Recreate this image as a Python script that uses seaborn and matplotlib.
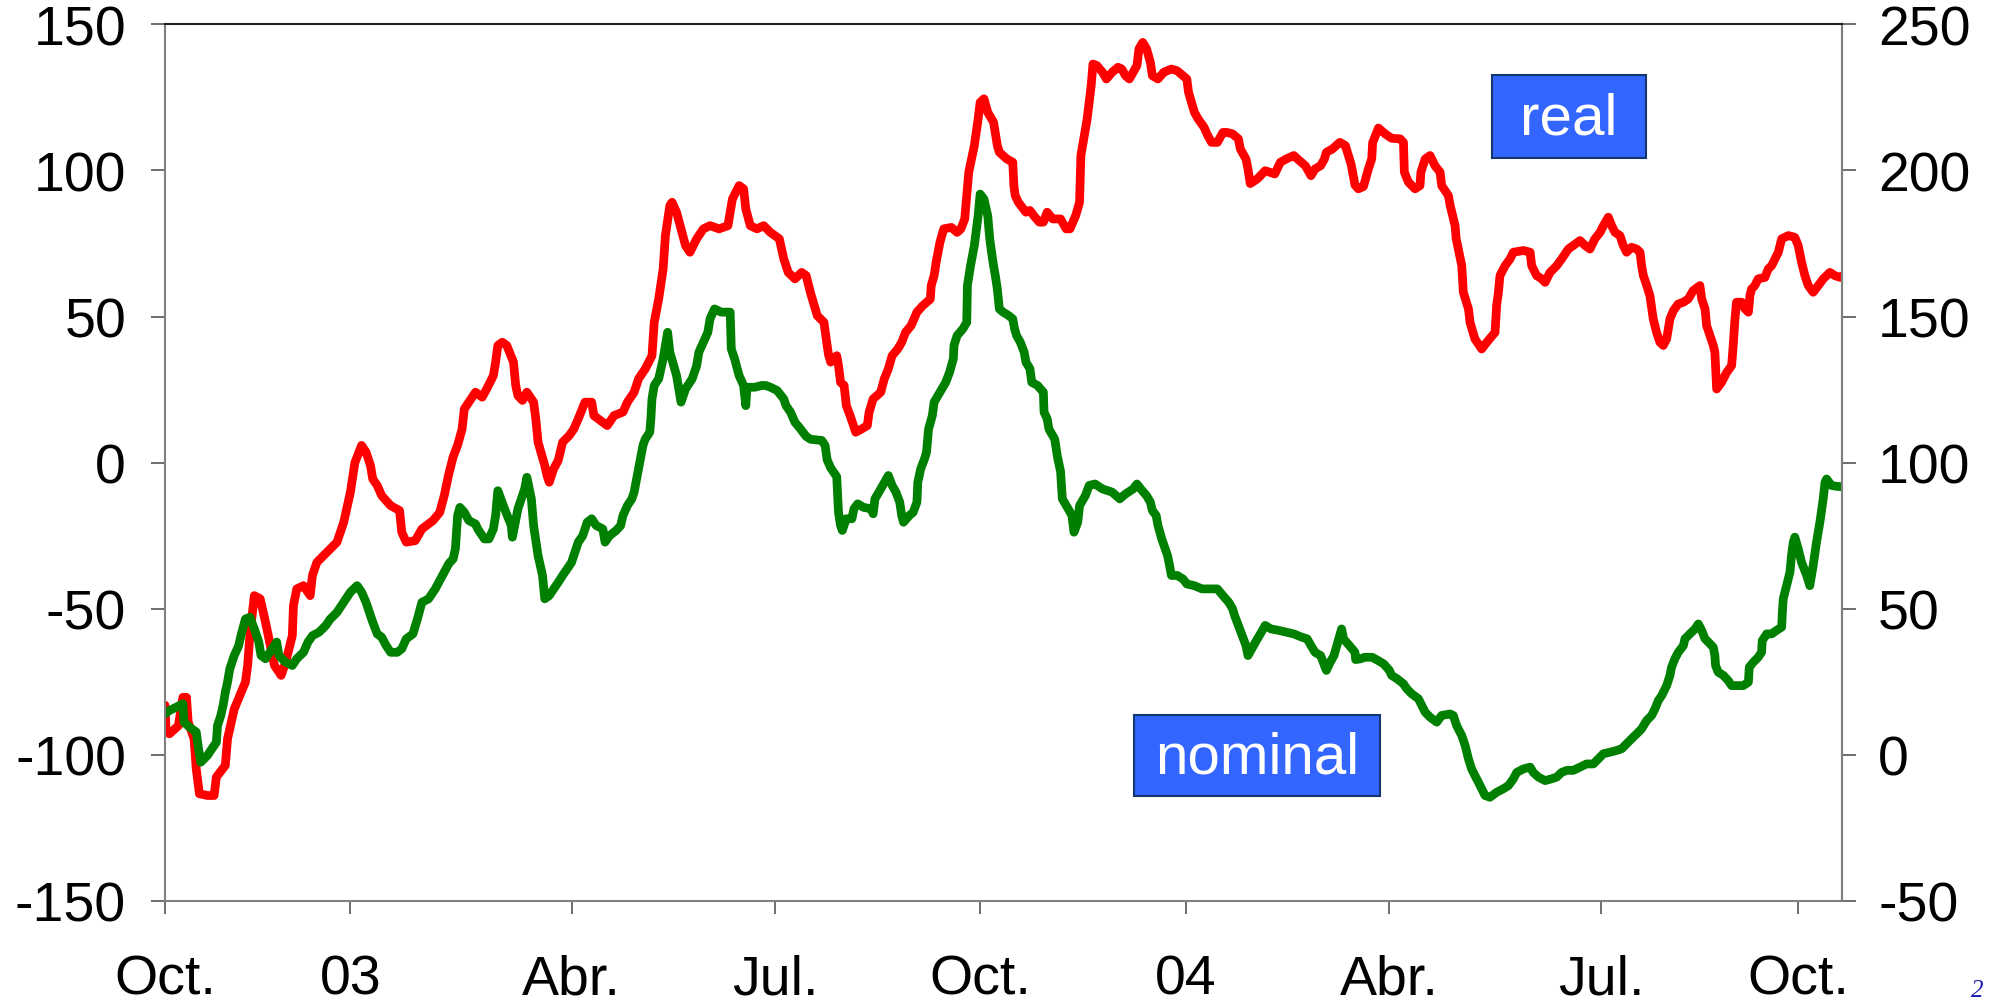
import matplotlib
matplotlib.use("Agg")
import matplotlib.pyplot as plt
from matplotlib.patches import Rectangle
import pandas as pd
import seaborn as sns

START = pd.Timestamp("2002-10-01")

# x = days since 1 Oct 2002, y = value on the left axis
real_days = [
    0, 0.5, 2, 6, 8, 9.6, 10.4, 13, 14, 15.4, 19, 22, 23, 27, 28, 31, 36, 37, 38, 40,
    42.6, 45, 49, 52, 54, 57, 57.5, 59, 62, 65, 66, 68, 71, 74, 77, 80, 83, 85, 88, 90,
    92, 93, 95, 97, 101, 105, 106, 108, 112, 115, 120, 123, 125, 127, 129, 131, 133, 134, 137, 139,
    142, 144, 147, 148, 149, 151, 153, 156, 157, 158, 160, 162, 165, 166, 167, 170, 171, 172, 174, 176,
    178, 181, 183, 185, 188, 191, 192, 196, 198, 201, 205, 207, 210, 212, 215, 218, 219, 221, 223, 224,
    226, 227, 229, 231, 233, 235, 238, 241, 244, 248, 252, 254, 257, 259, 260, 262, 265, 268, 271, 275,
    277, 279, 282, 285, 287, 289, 292, 295, 296, 297, 298, 300.7, 301.5, 302.4, 304, 305, 306.7, 309.2, 311.8, 314.4,
    315.2, 317, 320.4, 322, 323.8, 325.5, 328, 329.8, 331.5, 334, 336.6, 339.2, 342.6, 343, 344.3, 345.2, 346.9, 348.6, 352, 354.6,
    356.3, 358, 359, 359.8, 362.3, 364, 364.9, 366.6, 368.3, 370.9, 372.6, 373.5, 376.9, 379.5, 380, 380.6, 382, 385.4, 387.2, 388.9,
    391.4, 393.2, 394.9, 397.4, 400.9, 403.4, 405.1, 407.7, 409.4, 410, 412.8, 414.6, 415.4, 417.1, 419.7, 421.4, 424, 426.6, 428.3, 430,
    431.7, 433.4, 435.1, 436, 437.7, 439.4, 441.1, 442, 444.5, 447.1, 450.5, 453.1, 455.7, 457.4, 458.2, 460.8, 462.5, 465.1, 466.8, 468.5,
    471.1, 473.6, 475.4, 477.9, 480.5, 481.4, 483.9, 484.8, 485.8, 489, 492.5, 496.8, 499.3, 501.9, 505.3, 507, 510.5, 513, 514.8, 517.3,
    519, 519.9, 522.5, 525.9, 528.4, 531, 532.7, 534.2, 536.5, 538.7, 540.2, 540.6, 543.2, 546.2, 549.1, 552.9, 554.4, 554.8, 556.6, 559.6,
    561.8, 562.2, 564.1, 566.3, 568.5, 570.8, 571.5, 574.5, 575.3, 577.5, 578, 580.5, 581.2, 583.5, 584.2, 586.4, 589.4, 591.7, 595.4, 596.1,
    596.9, 597.6, 599.9, 602.1, 603.6, 608.1, 611.1, 611.8, 614, 616.3, 617.8, 620, 623, 625.2, 628.2, 630.4, 633.4, 635.7, 637.9, 640.1,
    642.4, 643.9, 646.1, 647.6, 649.1, 651.3, 652.8, 654.3, 656.5, 658.8, 660.3, 661, 661.8, 663.3, 664.7, 666.2, 667.7, 669.2, 670.7, 672.2,
    673.7, 675.2, 677.4, 679.7, 681.9, 684.1, 687.1, 687.9, 689.4, 690.1, 691.6, 693.1, 693.8, 694.6, 696.8, 699.1, 701.3, 702, 702.8, 703.5,
    705.8, 707.3, 708.8, 709.5, 710.2, 711.7, 713.2, 716.2, 717.7, 719.2, 720.7, 722.2, 723.7, 726.7, 729.6, 731.1, 732.6, 734.1, 735.6, 737.8,
    740.1, 742.3, 745.3, 747.5, 749.8, 751.3,
]
real_vals = [
    -83, -92, -92.8, -90, -80.3, -80.3, -88.8, -94.5, -104.8, -113.3, -113.9, -113.9, -107.6, -103.6, -94.5, -84.3, -75.1, -69.4, -59.2, -45.5,
    -46.6, -54.6, -69.4, -72.8, -68.3, -59.2, -48.9, -43.2, -42.1, -45.5, -38.6, -34.1, -31.8, -29.5, -27.2, -20.4, -10.1, 0, 5.9, 3.6,
    -1.0, -5.6, -7.8, -11.3, -14.7, -16.4, -23.8, -27.2, -26.7, -22.7, -19.8, -17.0, -11.3, -4, 2, 6, 11.5, 18.4, 21.8, 24.1,
    22.4, 25.2, 29.8, 34.4, 40.1, 41.2, 40.1, 34.4, 26.4, 22.9, 21.3, 24.1, 20.7, 15.0, 7.0, -1.0, -4.4, -6.7, -2.1, 0.7,
    7.0, 9.3, 11.5, 15.0, 20.7, 20.7, 16.1, 13.8, 12.7, 16.1, 17.3, 20.7, 24.1, 28.7, 32.1, 36.6, 48.0, 56.0, 66.3, 77.7,
    88.0, 89.1, 85.7, 80.0, 74.3, 72.0, 76.6, 80.0, 81.1, 80.0, 81.1, 90.2, 94.8, 93.7, 86.8, 81.1, 80.0, 81.1, 78.8, 76.6,
    69.7, 65.1, 62.9, 65.1, 64.0, 58, 50.3, 48.0, 42.3, 37, 34.4, 36.6, 33.2, 27.5, 26.4, 19.5, 16.1, 10.4, 11.5, 12.7,
    17.3, 21.8, 24.1, 28.7, 32.1, 36.6, 38.9, 41.2, 44.6, 46.9, 51.5, 53.7, 56.0, 60.6, 64.0, 68.6, 75.4, 80.0, 80.5, 78.8,
    80.0, 83.4, 92.5, 99.4, 108.5, 117.6, 123.3, 124.5, 119.9, 116.5, 108.5, 106.2, 103.9, 102.8, 94.8, 91.4, 89.1, 85.7, 86.3, 84.5,
    82.3, 82.3, 85.7, 83.4, 83.4, 80.0, 80.0, 84.6, 89.1, 105.1, 117.6, 129.0, 136.4, 135.9, 133.6, 131.3, 133.6, 135.3, 134.7, 132.4,
    131.3, 133.6, 135.9, 141.6, 143.8, 141.6, 137.0, 132.4, 131.3, 133.6, 134.7, 134.1, 132.4, 131.3, 126.7, 119.9, 117.6, 114.8, 111.9, 109.6,
    109.6, 113.0, 113.0, 112.5, 110.8, 107.3, 103.9, 100.5, 95.5, 97.1, 99.9, 98.8, 102.8, 103.9, 105.1, 103.9, 101.6, 98.2, 100.5, 101.6,
    103.9, 106.2, 107.3, 109.6, 108.5, 102, 95, 93.7, 94.5, 100.5, 104, 109.5, 114.5, 112.5, 111, 110.8, 109.6, 99.4, 96.0, 93.7,
    94.8, 99.4, 103.9, 105.1, 101.6, 99.4, 94.8, 91.4, 88.0, 81.1, 76.6, 67.4, 58.3, 52.6, 48.0, 42.3, 38.9, 41.2, 44.6, 53.7,
    58.3, 64.0, 67.4, 69.7, 72.0, 72.6, 72.0, 67.4, 64.0, 62.9, 61.7, 65.1, 67.4, 69.7, 73.1, 74.3, 76.0, 74.3, 73.1, 76.6,
    78.8, 81.1, 84.0, 81.1, 78.8, 77.7, 74.3, 72.0, 73.7, 73.1, 72.0, 67.4, 64.0, 60.6, 57.2, 49.2, 44.6, 41.2, 40.1, 42.3,
    49.2, 52.0, 54.3, 54.9, 56.0, 58.9, 60.6, 56.0, 52.6, 46.9, 43.5, 40.1, 37.8, 25.2, 27.5, 30.9, 33.2, 40.1, 49.2, 54.9,
    54.9, 52.6, 51.5, 57.2, 59.4, 60.6, 62.9, 63.4, 66.3, 67.4, 69.7, 72.0, 76.6, 77.7, 77.1, 74.3, 68.6, 64.0, 60.6, 58.3,
    60.6, 62.9, 65.1, 64.0, 63.4, 64.0,
]

nominal_days = [
    0, 2, 5, 8, 8.5, 11, 14, 15, 16, 19, 21, 23, 23.5, 25, 26, 27, 28, 29, 31, 33,
    34, 36, 38, 40, 42, 43, 45, 48, 50, 51, 54, 57, 59, 62, 64, 66, 69, 72, 74, 77,
    79, 81, 83, 86, 88, 90, 92, 93, 95, 97, 99, 101, 104, 106, 108, 111, 113, 115, 118, 121,
    123, 125, 127, 129, 130, 131, 132, 134, 136, 139, 140, 143, 145, 147, 148, 149, 152, 155, 155.5, 158,
    161, 162, 164, 165, 167, 169, 170, 172, 174, 176, 178, 180, 182, 183, 184, 185, 187, 189, 191, 193,
    196, 197, 199, 202, 204, 205, 207, 209, 210, 211, 212.5, 214, 215, 217, 217.5, 218, 219, 221, 223, 225,
    226, 229, 231, 233, 236, 238, 239, 241, 243, 244, 246, 249, 253, 253.5, 255, 257, 259, 260, 260.5, 264,
    267, 269, 271, 274, 277, 278, 280, 282, 284, 287, 289, 294, 295.5, 296.4, 298, 300.7, 301.5, 302.4, 303.2, 305,
    307.5, 308.4, 310.1, 312.7, 316.1, 317, 317.8, 320.4, 322.1, 323.8, 325.5, 327.2, 328.9, 329.8, 330.6, 333.2, 334.9, 336.6, 337, 338.3,
    340, 340.9, 341.8, 343.5, 344.3, 346.9, 349.5, 351.2, 352.9, 353.2, 354.6, 357.2, 358.9, 359.2, 360.6, 362.3, 364, 364.9, 366.6, 368.3,
    369.2, 370, 370.9, 371.7, 372.6, 373.5, 375.2, 377.7, 379.5, 380.3, 381.2, 382.9, 384.6, 385.4, 387.2, 388, 390.6, 393.2, 393.5, 394.9,
    395.7, 398.3, 399.5, 400.9, 401.7, 404.3, 406, 406.9, 408.6, 409.4, 412, 413.7, 416.3, 419.7, 424, 427.4, 430, 433.4, 435.1, 436.8,
    439.4, 441.1, 442, 443.7, 444.5, 446.2, 448.8, 449.7, 450.5, 453.1, 455.7, 457.4, 460.8, 464.2, 468.5, 471.1, 473.6, 476.2, 477.9, 478.8,
    480.5, 482.2, 483.9, 484.8, 486.5, 489, 490.8, 492.5, 495.1, 498.5, 501.9, 505.3, 508.8, 511.3, 513, 514.8, 517.3, 519, 519.9, 521.6,
    523.3, 525, 526.7, 527.6, 530.2, 532.7, 533, 535.3, 537, 540.4, 543, 545.6, 548.1, 549.1, 551.6, 554.4, 555.9, 558.1, 561.1, 562.6,
    564.1, 566.3, 569.3, 571.5, 575.3, 576.7, 578.2, 580.5, 582, 583.5, 584.9, 586.4, 587.9, 589.4, 590.9, 593.1, 596.1, 599.1, 601.4, 603.6,
    605.1, 608.1, 611.1, 612.5, 614.8, 617.8, 620.7, 623, 625.2, 627.5, 630.4, 633.4, 636.4, 639.4, 641.6, 643.9, 646.8, 649.8, 652.1, 654.3,
    656.5, 658.8, 661, 663.3, 665.5, 667, 668.5, 670, 672.2, 673.7, 674.4, 675.9, 677.4, 679.7, 680.4, 682.6, 684.9, 686.4, 687.9, 689.4,
    690.9, 693.1, 693.8, 694.1, 695.3, 697.6, 699.8, 701.3, 703.5, 706.5, 708.8, 709.2, 711, 713.2, 714.7, 715, 717, 719.2, 721.4, 723.7,
    724, 724.4, 725.9, 727.4, 728.1, 728.9, 729.6, 731.1, 732.6, 734.9, 736.3, 737.8, 739.3, 740.8, 742.3, 743.1, 743.8, 746, 748.3, 752.8,
]
nominal_vals = [
    -86.0, -84.8, -83.7, -82.5, -88.8, -90.5, -92.2, -97.9, -102.5, -100.2, -97.9, -95.7, -90.0, -86.5, -83.1, -78.6, -75.1, -70.6, -66.0, -62.6,
    -59.2, -53.5, -52.9, -56.9, -61.4, -66.0, -67.1, -63.7, -61.4, -66.0, -68.3, -69.4, -67.1, -64.9, -61.4, -59.2, -58.0, -55.7, -53.5, -51.2,
    -48.9, -46.6, -44.3, -42.1, -44.3, -47.8, -52.3, -54.6, -58.6, -59.7, -62.6, -64.9, -64.9, -63.7, -60.3, -58.6, -53.5, -47.8, -46.6, -43.2,
    -40.3, -37.5, -34.6, -32.9, -29.5, -18.1, -15.3, -17.0, -19.8, -21.0, -22.7, -26.1, -26.1, -22.7, -18.1, -9.6, -15.8, -21.5, -25.5, -15.8,
    -9.0, -5.0, -12.4, -21.5, -31.8, -38.6, -46.6, -45.5, -43.2, -41.0, -38.6, -36.4, -34.1, -31.8, -29.5, -27.2, -25.0, -20.4, -19.2, -21.5,
    -22.7, -27.2, -25.0, -23.2, -21.5, -18.1, -14.7, -12.4, -10.1, -6, 0, 6, 8.1, 10.4, 15.0, 21.8, 26.4, 28.7, 35.5, 44.6,
    37.8, 29.8, 20.7, 25.2, 28.7, 33.2, 37.8, 41.2, 44.6, 49.2, 52.6, 51.5, 51.5, 38.9, 35.5, 29.8, 26.4, 19.5, 25.8, 25.8,
    26.4, 26.4, 25.8, 24.7, 21.8, 19.5, 17.3, 13.8, 12, 9, 8, 7.6, 5.9, 1.0, -1.8, -4.8, -17.0, -21.5, -23.2, -19.2,
    -19.2, -15.8, -14.1, -15.3, -15.8, -17.5, -12.4, -9.0, -6.7, -4.4, -7.8, -10.1, -13.5, -18.1, -20.4, -18.1, -17.0, -13.5, -6.7, -2.1,
    1.3, 3.6, 11.5, 16.1, 20.7, 24.1, 27.5, 30.9, 35.5, 40.1, 43.5, 45.8, 48.0, 60.6, 67.4, 74.3, 84.5, 91.9, 90.2, 84.5,
    76.6, 72.0, 67.4, 64.0, 59.4, 52.6, 51.5, 50.3, 49.2, 45.8, 43.5, 41.2, 37.8, 34.4, 32.1, 27.5, 26.4, 24.1, 17.3, 15.0,
    11.5, 8, 2, -3, -12.4, -15.8, -18.1, -23.8, -20.4, -14.7, -11.3, -7.8, -7.3, -9.0, -10.1, -12.4, -10.7, -9.0, -7.3, -9.0,
    -11.3, -13.5, -16.4, -18.1, -21.5, -26.1, -31.8, -35.2, -38.6, -38.6, -39.8, -41.5, -42.1, -43.2, -43.2, -43.2, -45.5, -47.8, -50.0, -52.3,
    -55.7, -59.2, -62.6, -66.0, -63.7, -60.3, -58.0, -55.7, -56.9, -57.4, -58.0, -58.6, -59.7, -60.3, -62.6, -64.9, -66.0, -69.4, -71.1, -68.3,
    -66.0, -61.4, -56.9, -60.3, -62.6, -64.9, -67.4, -67.1, -66.6, -66.6, -67.7, -68.9, -71.1, -72.8, -74.0, -75.7, -77.4, -79.1, -80.8, -83.1,
    -85.4, -87.1, -88.8, -86.5, -86.0, -86.5, -90.0, -93.4, -96.8, -101.4, -104.8, -107.1, -109.3, -111.6, -113.9, -114.5, -112.8, -111.6, -110.5, -108.2,
    -106.0, -104.8, -104.2, -106.0, -107.6, -108.8, -108.2, -107.6, -106.0, -105.3, -105.3, -104.2, -103.1, -103.1, -101.4, -99.6, -99.1, -98.5, -97.9, -96.2,
    -94.5, -92.8, -91.1, -88.2, -86.5, -84.2, -81.4, -79.7, -76.3, -72.8, -70.0, -67.1, -64.9, -62.6, -60.3, -58.6, -56.9, -55.2, -57.4, -60.3,
    -61.4, -63.2, -66.0, -69.4, -71.7, -72.8, -74.6, -76.3, -76.3, -76.3, -75.1, -70.0, -68.3, -66.6, -64.9, -60.9, -58.6, -58.6, -57.4, -56.3,
    -51.2, -46.6, -42.1, -37.5, -31.8, -27.2, -25.5, -29.5, -34.1, -38.6, -42.1, -35.2, -27.2, -20.4, -12.4, -6.7, -5.6, -7.8, -8.1, -8.4,
]

# tick positions as they sit on the original axis
tick_dates = ["2002-10-01", "2002-12-23", "2003-04-01", "2003-07-01", "2003-10-01",
              "2004-01-01", "2004-04-01", "2004-07-05", "2004-10-01"]
tick_labels = ["Oct.", "03", "Abr.", "Jul.", "Oct.", "04", "Abr.", "Jul.", "Oct."]
left_ticks = [-150, -100, -50, 0, 50, 100, 150]
right_ticks = [-50, 0, 50, 100, 150, 200, 250]

RED = "#FF0000"
GREEN = "#008000"
BOX_BLUE = "#3366FF"
BOX_EDGE = "#12366E"

sns.set_style("ticks")
plt.rcParams["font.family"] = ["Liberation Sans", "DejaVu Sans"]
plt.rcParams["axes.unicode_minus"] = False

df = pd.concat([
    pd.DataFrame({"date": START + pd.to_timedelta(real_days, unit="D"),
                  "value": real_vals, "serie": "real"}),
    pd.DataFrame({"date": START + pd.to_timedelta(nominal_days, unit="D"),
                  "value": nominal_vals, "serie": "nominal"}),
], ignore_index=True)

fig = plt.figure(figsize=(19.95, 10.04), dpi=100)
ax = fig.add_axes([0.0827, 0.1016, 0.8406, 0.8732])

sns.lineplot(data=df, x="date", y="value", hue="serie", hue_order=["real", "nominal"],
             palette={"real": RED, "nominal": GREEN}, estimator=None, sort=False,
             linewidth=6.3, legend=False, ax=ax)

ax.set_xlim(START, START + pd.Timedelta(days=750.7))
ax.set_ylim(-150, 150)
ax.set_xticks(pd.to_datetime(tick_dates))
ax.set_xticklabels(tick_labels)
ax.set_yticks(left_ticks)
ax.set_xlabel("")
ax.set_ylabel("")

ax.tick_params(axis="x", direction="out", length=9, width=1.2, color="#555555",
               labelsize=40, labelcolor="black", pad=29)
ax.tick_params(axis="y", direction="out", length=10, width=1.2, color="#555555",
               labelsize=40, labelcolor="black", pad=18)

sec = ax.secondary_yaxis("right", functions=(lambda v: v + 100, lambda v: v - 100))
sec.set_yticks(right_ticks)
sec.tick_params(direction="out", length=10, width=1.2, color="#555555",
                labelsize=40, labelcolor="black", pad=16)
sec.spines["right"].set_color("#808080")
sec.spines["right"].set_linewidth(1.5)

for side in ("left", "bottom", "right"):
    ax.spines[side].set_color("#808080")
    ax.spines[side].set_linewidth(1.5)
ax.spines["top"].set_visible(True)
ax.spines["top"].set_color("#222222")
ax.spines["top"].set_linewidth(1.5)

# label boxes
boxes = [("real", 0.7479, 0.8416, 0.0772, 0.0827),
         ("nominal", 0.5684, 0.2062, 0.1233, 0.0807)]
for txt, x0, y0, w, h in boxes:
    fig.patches.append(Rectangle((x0, y0), w, h, transform=fig.transFigure,
                                 facecolor=BOX_BLUE, edgecolor=BOX_EDGE, linewidth=1.5))
    fig.text(x0 + w / 2, y0 + h / 2 - 0.002, txt, color="white", fontsize=42,
             ha="center", va="center")

fig.text(0.988, 0.002, "2", color="#1A1AB0", fontsize=18, family="Liberation Serif",
         style="italic", ha="left", va="bottom")

fig.savefig("out.png", dpi=100)
